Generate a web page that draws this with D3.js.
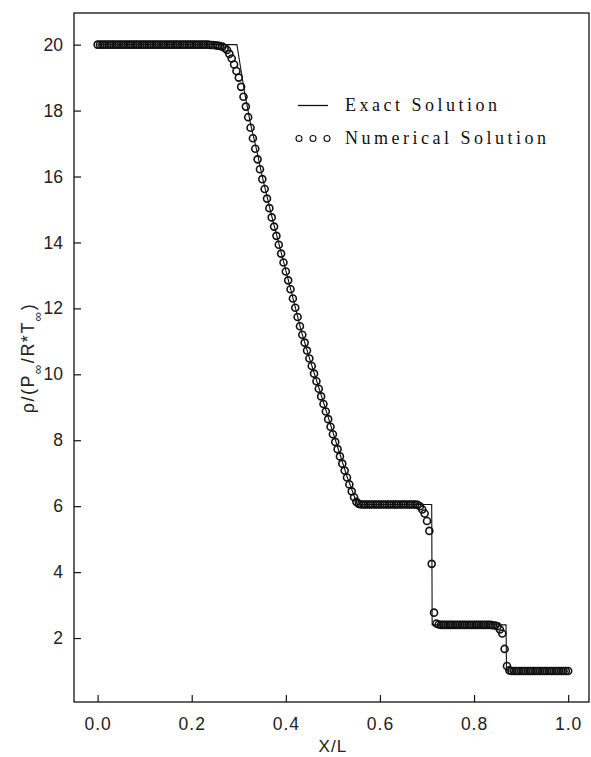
<!DOCTYPE html>
<html><head><meta charset="utf-8">
<script src="https://cdn.jsdelivr.net/npm/d3@7"></script>
<style>body{margin:0;background:#fff}svg{display:block}</style>
</head><body>
<script>
// ---- data ----
const xTicks = [0.0, 0.2, 0.4, 0.6, 0.8, 1.0];
const yTicks = [2, 4, 6, 8, 10, 12, 14, 16, 18, 20];
// exact solution (x, rho)
const exactX = [0.0, 0.296, 0.305, 0.313, 0.325, 0.338, 0.350, 0.370, 0.390, 0.410, 0.433, 0.450, 0.470, 0.490, 0.511, 0.530, 0.552, 0.710, 0.711, 0.868, 0.869, 1.0];
const exactRho = [20.0, 20.0, 19.2, 18.5, 17.6, 16.8, 16.0, 14.8, 13.7, 12.6, 11.3, 10.5, 9.6, 8.7, 7.75, 6.9, 6.05, 6.05, 2.40, 2.40, 1.0, 1.0];
// numerical solution: x grid (step 0.005) and rho values
const numX = [
0.000,0.005,0.010,0.015,0.020,0.025,0.030,0.035,0.040,0.045,0.050,0.055,0.060,0.065,0.070,0.075,0.080,0.085,0.090,0.095,
0.100,0.105,0.110,0.115,0.120,0.125,0.130,0.135,0.140,0.145,0.150,0.155,0.160,0.165,0.170,0.175,0.180,0.185,0.190,0.195,
0.200,0.205,0.210,0.215,0.220,0.225,0.230,0.235,0.240,0.245,0.250,0.255,0.260,0.265,0.270,0.275,0.280,0.285,0.290,0.295,
0.300,0.305,0.310,0.315,0.320,0.325,0.330,0.335,0.340,0.345,0.350,0.355,0.360,0.365,0.370,0.375,0.380,0.385,0.390,0.395,
0.400,0.405,0.410,0.415,0.420,0.425,0.430,0.435,0.440,0.445,0.450,0.455,0.460,0.465,0.470,0.475,0.480,0.485,0.490,0.495,
0.500,0.505,0.510,0.515,0.520,0.525,0.530,0.535,0.540,0.545,0.550,0.555,0.560,0.565,0.570,0.575,0.580,0.585,0.590,0.595,
0.600,0.605,0.610,0.615,0.620,0.625,0.630,0.635,0.640,0.645,0.650,0.655,0.660,0.665,0.670,0.675,0.680,0.685,0.690,0.695,
0.700,0.705,0.710,0.715,0.720,0.725,0.730,0.735,0.740,0.745,0.750,0.755,0.760,0.765,0.770,0.775,0.780,0.785,0.790,0.795,
0.800,0.805,0.810,0.815,0.820,0.825,0.830,0.835,0.840,0.845,0.850,0.855,0.860,0.865,0.870,0.875,0.880,0.885,0.890,0.895,
0.900,0.905,0.910,0.915,0.920,0.925,0.930,0.935,0.940,0.945,0.950,0.955,0.960,0.965,0.970,0.975,0.980,0.985,0.990,0.995,
1.000];
const numRho = [
20,20,20,20,20,20,20,20,20,20,20,20,20,20,20,20,20,20,20,20,
20,20,20,20,20,20,20,20,20,20,20,20,20,20,20,20,20,20,20,20,
20,20,20,20,20,20,20,20,19.99,19.99,19.98,19.97,19.96,19.94,19.9,19.84,19.72,19.58,19.4,19.2,
19.0,18.72,18.42,18.12,17.8,17.48,17.16,16.84,16.52,16.22,15.92,15.62,15.33,15.04,14.76,14.48,14.2,13.93,13.66,13.39,
13.12,12.85,12.58,12.3,12.02,11.74,11.46,11.2,10.96,10.72,10.48,10.25,10.02,9.79,9.56,9.33,9.1,8.87,8.64,8.41,
8.18,7.95,7.73,7.51,7.29,7.08,6.87,6.66,6.45,6.27,6.13,6.07,6.05,6.05,6.05,6.05,6.05,6.05,6.05,6.05,
6.05,6.05,6.05,6.05,6.05,6.05,6.05,6.05,6.05,6.05,6.05,6.05,6.05,6.05,6.05,6.05,6.04,6.0,5.9,5.78,
5.55,5.25,4.25,2.77,2.44,2.41,2.40,2.40,2.40,2.40,2.40,2.40,2.40,2.40,2.40,2.40,2.40,2.40,2.40,2.40,
2.40,2.40,2.40,2.40,2.40,2.40,2.40,2.40,2.39,2.38,2.36,2.26,2.14,1.67,1.15,1.02,1.0,1.0,1.0,1.0,
1.0,1.0,1.0,1.0,1.0,1.0,1.0,1.0,1.0,1.0,1.0,1.0,1.0,1.0,1.0,1.0,1.0,1.0,1.0,1.0,
1.0];
const legendLabels = ["Exact Solution", "Numerical Solution"];

// ---- drawing ----
const W = 591, H = 757;
const L = 74, R = 589, T = 13, B = 702;
const svg = d3.select("body").append("svg").attr("width", W).attr("height", H);
const x = d3.scaleLinear().domain([-0.0502, 1.0443]).range([L, R]);
const y = d3.scaleLinear().domain([0.06, 20.96]).range([B, T]);

const sans = "'Liberation Sans', Arial, sans-serif";
const ink = "#111";

// frame
svg.append("rect").attr("x", L).attr("y", T).attr("width", R - L).attr("height", B - T)
  .attr("fill", "none").attr("stroke", ink).attr("stroke-width", 1.3);

// axes with inward ticks
const xAxis = d3.axisBottom(x).tickValues(xTicks).tickFormat(d3.format(".1f")).tickSizeInner(-7).tickSizeOuter(0).tickPadding(16);
const gx = svg.append("g").attr("transform", `translate(0,${B})`).call(xAxis);
const yAxis = d3.axisLeft(y).tickValues(yTicks).tickFormat(d3.format("d")).tickSizeInner(-7).tickSizeOuter(0).tickPadding(11);
const gy = svg.append("g").attr("transform", `translate(${L},0)`).call(yAxis);
[gx, gy].forEach(g => {
  g.select(".domain").remove();
  g.selectAll("line").attr("stroke", ink).attr("stroke-width", 1.2);
  g.selectAll("text").attr("fill", "#222").style("font-family", sans).style("font-size", "17.5px");
});
gx.selectAll("text").style("letter-spacing", "1px");

// exact line
const pts = exactX.map((v, i) => [v, exactRho[i]]);
svg.append("path").datum(pts)
  .attr("d", d3.line().x(d => x(d[0])).y(d => y(d[1])))
  .attr("fill", "none").attr("stroke", ink).attr("stroke-width", 1.1);

// numerical circles
svg.append("g").selectAll("circle").data(numX.map((v, i) => [v, numRho[i]]))
  .join("circle")
  .attr("cx", d => x(d[0])).attr("cy", d => y(d[1])).attr("r", 3.5)
  .attr("fill", "none").attr("stroke", ink).attr("stroke-width", 1.6);

// legend
const lg = svg.append("g");
lg.append("line").attr("x1", 298).attr("x2", 328).attr("y1", 105.5).attr("y2", 105.5)
  .attr("stroke", ink).attr("stroke-width", 1.3);
[299, 313, 327].forEach(cx => lg.append("circle").attr("cx", cx).attr("cy", 138.5).attr("r", 3)
  .attr("fill", "none").attr("stroke", ink).attr("stroke-width", 1.1));
const serif = "'Liberation Serif', 'Times New Roman', serif";
lg.append("text").attr("x", 345).attr("y", 111).text(legendLabels[0])
  .style("font-family", serif).style("font-size", "18px").style("letter-spacing", "3.5px").attr("fill", ink);
lg.append("text").attr("x", 345).attr("y", 144).text(legendLabels[1])
  .style("font-family", serif).style("font-size", "18px").style("letter-spacing", "3.5px").attr("fill", ink);

// axis titles
svg.append("text").attr("x", x(0.5)).attr("y", 752).attr("text-anchor", "middle")
  .style("font-family", sans).style("font-size", "17px").style("letter-spacing", "1px").attr("fill", "#222").text("X/L");

const yl = svg.append("text").attr("transform", "translate(34,358) rotate(-90)")
  .attr("text-anchor", "middle").style("font-family", sans).style("font-size", "18px")
  .style("letter-spacing", "1.5px").attr("fill", "#222");
yl.append("tspan").text("ρ/(P");
yl.append("tspan").attr("baseline-shift", "sub").style("font-size", "13px").text("∞");
yl.append("tspan").text("/R*T");
yl.append("tspan").attr("baseline-shift", "sub").style("font-size", "13px").text("∞");
yl.append("tspan").text(")");
</script>
</body></html>
